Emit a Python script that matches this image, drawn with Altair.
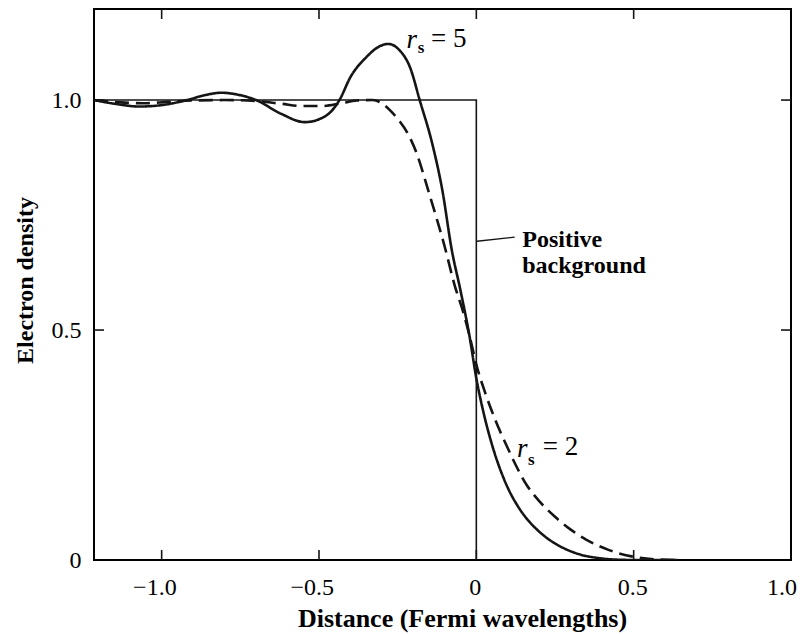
import altair as alt
import pandas as pd

# ---- data ----
x_rs5 = [-1.215, -1.15, -1.07, -0.99, -0.92, -0.86, -0.81, -0.76, -0.70, -0.62, -0.545, -0.48,
         -0.435, -0.40, -0.35, -0.31, -0.28, -0.245, -0.21, -0.18, -0.14, -0.108, -0.078, -0.05,
         -0.02, 0.0, 0.02, 0.045, 0.07, 0.10, 0.13, 0.16, 0.19, 0.224, 0.26, 0.30, 0.34, 0.38,
         0.44, 0.50, 0.64]
y_rs5 = [1.0, 0.992, 0.986, 0.99, 1.0, 1.011, 1.016, 1.012, 1.0, 0.97, 0.952, 0.965,
         1.0, 1.05, 1.093, 1.116, 1.122, 1.109, 1.07, 1.0, 0.905, 0.804, 0.674, 0.585,
         0.48, 0.395, 0.329, 0.262, 0.208, 0.157, 0.119, 0.090, 0.068, 0.048, 0.032, 0.019, 0.010,
         0.005, 0.001, 0.0, 0.0]

x_rs2 = [-1.215, -1.13, -1.06, -0.98, -0.90, -0.80, -0.70, -0.62, -0.55, -0.49, -0.43, -0.38,
         -0.33, -0.30, -0.27, -0.245, -0.22, -0.19, -0.153, -0.125, -0.10, -0.07, -0.04, -0.02,
         0.0, 0.03, 0.06, 0.10, 0.13, 0.16, 0.20, 0.25, 0.30, 0.35, 0.42, 0.50, 0.58, 0.64]
y_rs2 = [1.0, 0.995, 0.993, 0.996, 0.999, 1.0, 0.998, 0.992, 0.987, 0.987, 0.993, 0.999,
         1.0, 0.993, 0.975, 0.955, 0.93, 0.885, 0.804, 0.74, 0.68, 0.60, 0.535, 0.483,
         0.425, 0.36, 0.305, 0.243, 0.2, 0.163, 0.128, 0.094, 0.066, 0.044, 0.022, 0.007, 0.001, 0.0]

bg_x = [-1.215, 0.0, 0.0]
bg_y = [1.0, 1.0, 0.0]

x_tick_values = [-1.0, -0.5, 0.0, 0.5, 1.0]
x_tick_labels = ["\u22121.0", "\u22120.5", "0", "0.5", "1.0"]
y_tick_values = [0.0, 0.5, 1.0]
y_tick_labels = ["0", "0.5", "1.0"]

x_title = "Distance (Fermi wavelengths)"
y_title = "Electron density"
bg_label = ["Positive", "background"]

# ---- layout ----
XMIN, XMAX = -1.215, 1.0
YMIN, YMAX = 0.0, 1.198
W, H = 697, 551
FONT = "Liberation Serif"
INK = "#151515"

xs = alt.Scale(domain=[XMIN, XMAX], nice=False, zero=False)
ys = alt.Scale(domain=[YMIN, YMAX], nice=False, zero=False)

label_expr = " : ".join(
    f"datum.value == {v} ? '{t}'" for v, t in zip(y_tick_values, y_tick_labels)
) + " : ''"

x_axis = alt.Axis(labels=False, ticks=False, domain=False, grid=False, title=x_title,
                  titleFont=FONT, titleFontSize=26, titleFontWeight="bold", titleColor="black",
                  titleX=368, titleY=66, titleBaseline="alphabetic", titleAlign="center")
y_axis = alt.Axis(values=y_tick_values, labelExpr=label_expr, ticks=False, domain=False,
                  grid=False, labelFont=FONT, labelFontSize=24, labelColor="black",
                  labelPadding=13, title=y_title, titleFont=FONT, titleFontSize=24,
                  titleFontWeight="bold", titleColor="black", titleAngle=270,
                  titleX=-62, titleY=271, titleBaseline="alphabetic", titleAlign="center")

# curves
rows = []
for i, (x, y) in enumerate(zip(x_rs5, y_rs5)):
    rows.append({"x": x, "y": y, "series": "rs5", "o": i})
for i, (x, y) in enumerate(zip(x_rs2, y_rs2)):
    rows.append({"x": x, "y": y, "series": "rs2", "o": i})
curves_df = pd.DataFrame(rows)

curves = alt.Chart(curves_df).mark_line(
    color=INK, strokeWidth=2.6, interpolate="monotone", clip=True
).encode(
    x=alt.X("x:Q", scale=xs, axis=x_axis),
    y=alt.Y("y:Q", scale=ys, axis=y_axis),
    detail="series:N",
    order="o:Q",
    strokeDash=alt.StrokeDash("series:N",
                              scale=alt.Scale(domain=["rs5", "rs2"], range=[[1, 0], [14, 7]]),
                              legend=None),
)

bg_df = pd.DataFrame({"x": bg_x, "y": bg_y, "o": list(range(len(bg_x)))})
background = alt.Chart(bg_df).mark_line(color=INK, strokeWidth=1.6, clip=True).encode(
    x=alt.X("x:Q", scale=xs), y=alt.Y("y:Q", scale=ys), order="o:Q"
)

# inward ticks on all four sides
tlx = 10 / W * (XMAX - XMIN)
tly = 10 / H * (YMAX - YMIN)
tick_rows = []
for v in x_tick_values[:-1]:
    tick_rows.append({"x": v, "x2": v, "y": YMIN, "y2": YMIN + tly})
    tick_rows.append({"x": v, "x2": v, "y": YMAX - tly, "y2": YMAX})
for v in y_tick_values[1:]:
    tick_rows.append({"x": XMIN, "x2": XMIN + tlx, "y": v, "y2": v})
    tick_rows.append({"x": XMAX - tlx, "x2": XMAX, "y": v, "y2": v})
ticks = alt.Chart(pd.DataFrame(tick_rows)).mark_rule(color=INK, strokeWidth=1.6).encode(
    x=alt.X("x:Q", scale=xs), x2="x2:Q", y=alt.Y("y:Q", scale=ys), y2="y2:Q"
)

# x tick labels (number centred on tick, minus sign hanging left)
def tick_label_layer(sel, **kw):
    df = pd.DataFrame({"x": [x_tick_values[i] for i in sel], "t": [x_tick_labels[i] for i in sel]})
    return alt.Chart(df).mark_text(font=FONT, fontSize=24, color="black",
                                   baseline="alphabetic", dy=35, **kw).encode(
        x=alt.X("x:Q", scale=xs), y=alt.Y(datum=0.0, scale=ys), text="t:N")

n = len(x_tick_values)
neg_labels = tick_label_layer([i for i in range(n) if x_tick_values[i] < 0], align="right", dx=15)
mid_labels = tick_label_layer([i for i in range(n - 1) if x_tick_values[i] >= 0], align="center", dx=-1)
end_labels = tick_label_layer([n - 1], align="right", dx=6)

# annotations
def txt(df, **kw):
    return alt.Chart(pd.DataFrame(df)).mark_text(font=FONT, color="black",
                                                 baseline="alphabetic", **kw).encode(
        x=alt.X("x:Q", scale=xs), y=alt.Y("y:Q", scale=ys), text="t:N")

r_letters = txt({"x": [-0.205, 0.146], "y": [1.113, 0.224], "t": ["r", "r"]},
                fontSize=27, fontStyle="italic", align="center")
s_letters = txt({"x": [-0.176, 0.175], "y": [1.102, 0.207], "t": ["s", "s"]},
                fontSize=17, fontWeight="bold", align="center")
eq_texts = txt({"x": [-0.144, 0.211], "y": [1.115, 0.228], "t": ["= 5", "= 2"]},
               fontSize=27, align="left")
bg_texts = txt({"x": [0.146, 0.146], "y": [0.680, 0.624], "t": bg_label},
               fontSize=24, fontWeight="bold", align="left")

leader = alt.Chart(pd.DataFrame({"x": [0.002], "x2": [0.122], "y": [0.693], "y2": [0.702]})
                   ).mark_rule(color=INK, strokeWidth=1.4).encode(
    x=alt.X("x:Q", scale=xs), x2="x2:Q", y=alt.Y("y:Q", scale=ys), y2="y2:Q")

chart = alt.layer(
    background, curves, ticks, leader, neg_labels, mid_labels, end_labels,
    r_letters, s_letters, eq_texts, bg_texts
).properties(
    width=W, height=H,
    padding={"left": 86, "top": 1, "right": 7, "bottom": 74},
    autosize=alt.AutoSizeParams(type="none"),
    background="white",
).configure_view(stroke="black", strokeWidth=2)

chart.save("out.html", embed_options={"renderer": "svg", "actions": False})
